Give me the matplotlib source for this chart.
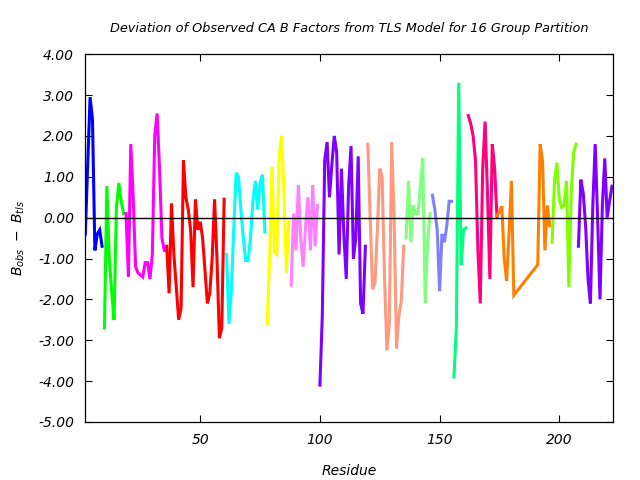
import matplotlib
matplotlib.use('Agg')
import matplotlib.pyplot as plt

# deviation values per TLS group (start residue)
blue_start = 2
blue_vals = [-0.4, 1.3, 2.95, 2.4, -0.8, -0.4, -0.3, -0.7]
green_start = 10
green_vals = [-2.7, 0.77, -1.0, -1.8, -2.5, 0.25, 0.85, 0.4, 0.1]
magenta_start = 19
magenta_vals = [0.1, -1.45, 1.8, 0.5, -1.2, -1.35, -1.4, -1.45, -1.1, -1.1, -1.5, -0.9,
                2.0, 2.55, 1.2, -0.5, -0.8]
red_start = 36
red_vals = [-0.7, -1.85, 0.35, -0.9, -1.7, -2.5, -2.2, 1.4, 0.5, 0.2, -0.3, -1.7, 0.45,
            -0.3, -0.1, -0.5, -1.3, -2.1, -1.85, -1.0, 0.45, -1.0, -2.95, -2.7, 0.45]
cyan_start = 61
cyan_vals = [-0.9, -2.6, -1.8, -0.3, 1.1, 1.0, 0.2, -0.5, -1.05, -1.05, -0.5, 0.4, 0.9,
             0.2, 0.85, 1.05, -0.35]
yellow_start = 78
yellow_vals = [-2.6, -1.0, 1.25, -0.85, -0.9, 1.5, 2.0, 0.6, -1.35, -0.1]
pink_start = 88
pink_vals = [-1.65, 0.1, -0.8, 0.8, -0.5, -1.2, -0.2, 0.5, -0.8, 0.8, -0.7, 0.3]
purple_start = 100
purple_vals = [-4.1, -2.4, 1.4, 1.85, 0.5, 1.3, 2.0, 1.6, -0.9, 1.2, -0.4, -1.5, 0.8,
               1.75, -1.0, -0.5, 1.5, -2.1, -2.35, -0.7]
salmon_start = 120
salmon_vals = [1.8, 0.0, -1.75, -1.6, -0.3, 1.2, 1.0, -1.5, -3.25, -2.6, 1.85, 0.0,
               -3.2, -2.4, -2.05, -0.7]
lgreen_start = 136
lgreen_vals = [-0.5, 0.9, -0.6, 0.3, 0.1, 0.1, 0.8, 1.45, -2.1, -0.6, 0.1]
peri_start = 147
peri_vals = [0.55, 0.2, -0.3, -1.8, -0.4, -0.6, -0.2, 0.4, 0.4]
spring_start = 156
spring_vals = [-3.9, -2.7, 3.3, -1.15, -0.3, -0.25]
dpink_start = 162
dpink_vals = [2.5, 2.3, 2.0, 1.4, -0.8, -2.1, 1.2, 2.35, 0.6, -1.5, 1.8, 1.2, 0.0]
orange_res = [174, 175, 176, 177, 178, 179, 180, 181, 191, 192, 193, 194, 195, 196]
orange_vals = [0.05, 0.15, 0.28, -1.0, -1.55, -0.4, 0.9, -1.9, -1.15, 1.8, 1.4, -0.8, 0.3, -0.2]
chart_start = 197
chart_vals = [-0.6, 0.9, 1.35, 0.45, 0.25, 0.3, 0.9, -1.7, 0.6, 1.6, 1.8]
purple2_start = 208
purple2_vals = [-0.7, 0.93, 0.6, -0.2, -1.5, -2.1, 0.3, 1.8, 0.0, -2.0, 0.3, 1.45, 0.0, 0.4, 0.77]

groups = [
    (blue_start, blue_vals, '#0000ff'),
    (green_start, green_vals, '#00ff00'),
    (magenta_start, magenta_vals, '#ff00ff'),
    (red_start, red_vals, '#ff0000'),
    (cyan_start, cyan_vals, '#00ffff'),
    (yellow_start, yellow_vals, '#ffff00'),
    (pink_start, pink_vals, '#ff80ff'),
    (purple_start, purple_vals, '#8000ff'),
    (salmon_start, salmon_vals, '#ff9980'),
    (lgreen_start, lgreen_vals, '#80ff80'),
    (peri_start, peri_vals, '#8080ff'),
    (spring_start, spring_vals, '#00ff80'),
    (dpink_start, dpink_vals, '#ff0080'),
    (None, orange_vals, '#ff8000'),
    (chart_start, chart_vals, '#80ff00'),
    (purple2_start, purple2_vals, '#8000ff'),
]

fig = plt.figure(figsize=(6.4, 4.8), dpi=100)
ax = fig.add_axes([0.1333, 0.121, 0.824, 0.766])

for start, vals, col in groups:
    if start is None:
        res = orange_res
    else:
        res = list(range(start, start + len(vals)))
    ax.plot(res, vals, color=col, lw=2.2, solid_joinstyle='miter')

ax.axhline(0, color='black', lw=1)

ax.set_xlim(2, 222.3)
ax.set_ylim(-5, 4)
ax.set_xticks([50, 100, 150, 200])
ax.set_yticks(range(-5, 5))
ax.set_yticklabels(['%.2f' % v for v in range(-5, 5)])
ax.tick_params(direction='in', top=True, right=True, length=5, width=0.8,
               labelsize=10, pad=8)
for lab in ax.get_xticklabels() + ax.get_yticklabels():
    lab.set_fontstyle('italic')
for sp in ax.spines.values():
    sp.set_linewidth(0.9)

ax.set_xlabel('Residue', fontstyle='italic', fontsize=10, labelpad=12)
ax.set_ylabel(r'$B_{obs}\ -\ B_{tls}$', fontsize=10, labelpad=8)
ax.set_title('Deviation of Observed CA B Factors from TLS Model for 16 Group Partition',
             fontstyle='italic', fontsize=9.3, pad=16)

fig.savefig('out.png', dpi=100)
